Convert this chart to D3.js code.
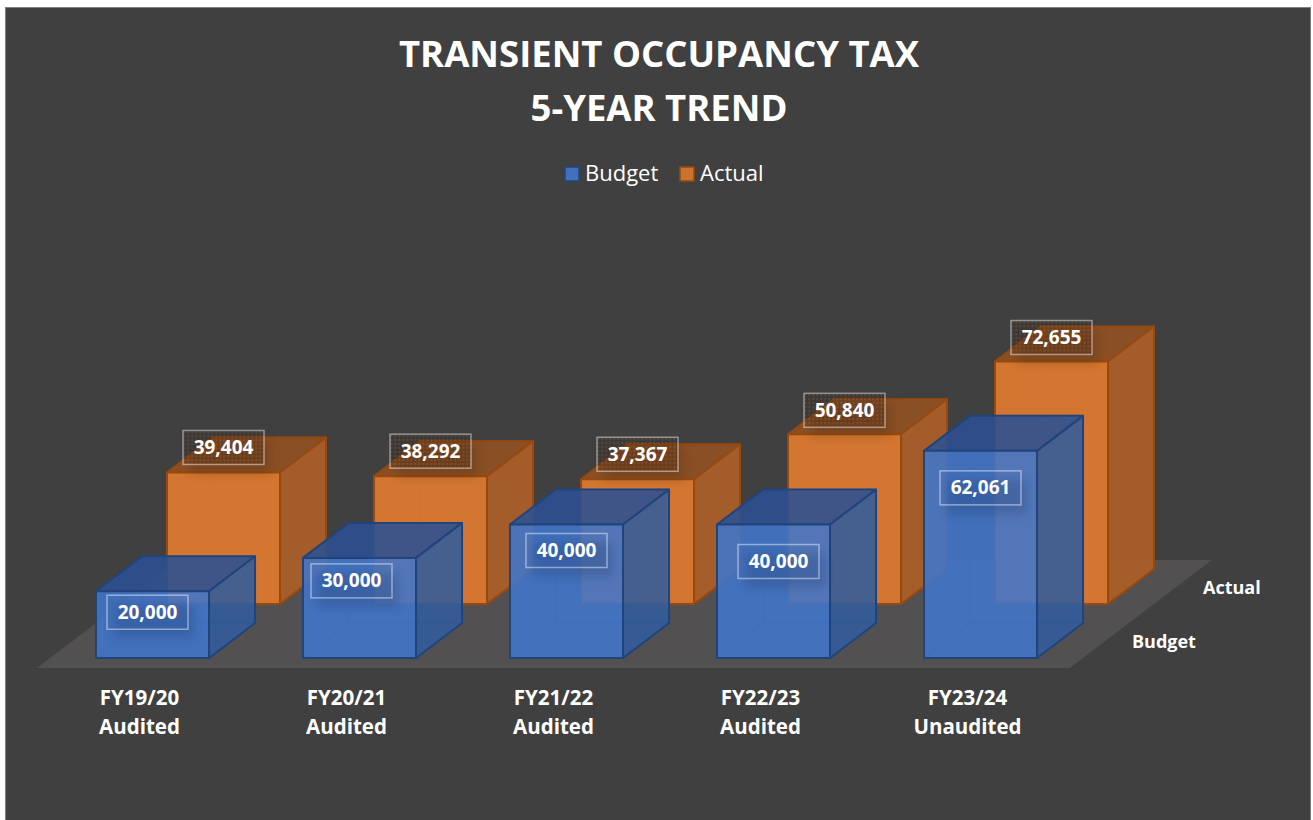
<!DOCTYPE html>
<html>
<head>
<meta charset="utf-8">
<title>Transient Occupancy Tax</title>
<script src="https://cdn.jsdelivr.net/npm/d3@7"></script>
<style>
    html, body { margin: 0; padding: 0; background: #fff; }
    svg { display: block; }
    text { font-family: "Open Sans", Lato, sans-serif; fill: #fff; }
</style>
</head>
<body>
<svg id="chart" width="1313" height="820"></svg>
<script>
/*------------------------- data -------------------------*/
const categories = ["FY19/20", "FY20/21", "FY21/22", "FY22/23", "FY23/24"];
const auditStatus = ["Audited", "Audited", "Audited", "Audited", "Unaudited"];
const series = ["Budget", "Actual"];
const budget = [20000, 30000, 40000, 40000, 62061];
const actual = [39404, 38292, 37367, 50840, 72655];
const titleLines = ["TRANSIENT OCCUPANCY TAX", "5-YEAR TREND"];

/*------------------------ styling ------------------------*/
const colors = {
    Budget: { front: "#4175ca", side: "#315a9a", top: "#2c4f91", inner: "#4f7fd0", stroke: "#22447c", shadow: "#1d3566", alpha: 0.85 },
    Actual: { front: "#da7830", side: "#a85d28", top: "#8c5023", inner: "#e08a48", stroke: "#97490f", shadow: "#4a2508", alpha: 0.94 }
};
// data labels were dragged around by hand in the original, so they carry their own nudges
const labelNudge = {
    Budget: [[-5, 21], [-8, 23], [0, 26], [5, 37], [0, 37]],
    Actual: [[0, -25], [0, -25], [0, -25], [0, -24], [0, -24]]
};

const svg = d3.select("#chart");

/*------------------------- scales ------------------------*/
const x = d3.scaleBand()
    .domain(categories)
    .range([49, 1084])
    .paddingInner(0.454)
    .paddingOuter(0.227);

const y = d3.scaleLinear().domain([0, 80000]).range([658, 391]);

// depth into the picture, in px of vertical rise
const z = d3.scalePoint().domain(series).range([0, 54]);
const barDepth = 35;
const skew = 1.315;

// oblique projection of ground x, value and depth
function project(px, value, depth) {
    return [px + depth * skew, y(value) - depth];
}

const line = pts => "M" + pts.map(p => p.join(",")).join("L") + "Z";

/*------------------------- defs --------------------------*/
const defs = svg.append("defs");
defs.append("filter").attr("id", "soft")
    .attr("x", "-30%").attr("y", "-50%").attr("width", "160%").attr("height", "200%")
    .append("feGaussianBlur").attr("stdDeviation", 5);

const dots = defs.append("pattern").attr("id", "dots")
    .attr("width", 4).attr("height", 4).attr("patternUnits", "userSpaceOnUse");
dots.append("rect").attr("width", 4).attr("height", 4).attr("fill", "#3a2010").attr("opacity", 0.22);
dots.append("rect").attr("width", 1.5).attr("height", 1.5).attr("fill", "#fff").attr("opacity", 0.16);

/*---------------------- background ----------------------*/
svg.append("rect")
    .attr("x", 5.5).attr("y", 7.5)
    .attr("width", 1305).attr("height", 830)
    .attr("fill", "#404040")
    .attr("stroke", "#7f7f7f");

svg.selectAll(".title")
    .data(titleLines)
    .join("text")
    .attr("class", "title")
    .attr("x", 659)
    .attr("y", (d, i) => 67 + i * 54)
    .attr("text-anchor", "middle")
    .attr("font-size", 36.5)
    .attr("font-weight", 700)
    .text(d => d);

/*------------------------ legend -------------------------*/
const legendX = { Budget: 564, Actual: 679 };
const legend = svg.selectAll(".legend")
    .data(series)
    .join("g")
    .attr("class", "legend")
    .attr("transform", d => `translate(${legendX[d]},166)`);
legend.append("rect")
    .attr("x", 1).attr("y", 1)
    .attr("width", 14).attr("height", 14)
    .attr("fill", d => colors[d].front)
    .attr("fill-opacity", 0.9)
    .attr("stroke", d => colors[d].stroke)
    .attr("stroke-width", 1.5);
legend.append("text")
    .attr("x", 21).attr("y", 15)
    .attr("font-size", 22)
    .text(d => d);

/*------------------------- floor -------------------------*/
const floorLeft = 50, floorRight = 1083, floorFront = -10, floorBack = 98;
svg.append("path")
    .attr("d", line([
        project(floorLeft, 0, floorFront),
        project(floorRight, 0, floorFront),
        project(floorRight, 0, floorBack),
        project(floorLeft, 0, floorBack)
    ]))
    .attr("fill", "#525050");

/*------------------------- bars --------------------------*/
function faces(px, value, name) {
    const w = x.bandwidth();
    const d0 = z(name), d1 = d0 + barDepth;
    const a = project(px, 0, d0), b = project(px + w, 0, d0);
    const c = project(px + w, value, d0), e = project(px, value, d0);
    const a2 = project(px, 0, d1), b2 = project(px + w, 0, d1);
    const c2 = project(px + w, value, d1), e2 = project(px, value, d1);
    const col = colors[name];
    return [
        { pts: [a, b, b2, a2], fill: col.inner, op: 0.22, stroke: 0.2 },   // bottom
        { pts: [a, e, e2, a2], fill: col.inner, op: 0.22, stroke: 0.2 },   // left
        { pts: [a2, b2, c2, e2], fill: col.inner, op: 0.22, stroke: 0.2 }, // back
        { pts: [e, c, c2, e2], fill: col.top, op: col.alpha, stroke: 1 },  // top
        { pts: [b, c, c2, b2], fill: col.side, op: col.alpha, stroke: 1 }, // side
        { pts: [a, b, c, e], fill: col.front, op: col.alpha, stroke: 1 }   // front
    ];
}

const rows = [
    { name: "Actual", values: actual },
    { name: "Budget", values: budget }
];

rows.forEach(row => {
    const g = svg.append("g").attr("class", "series-" + row.name);
    row.values.forEach((v, i) => {
        g.append("g").selectAll("path")
            .data(faces(x(categories[i]), v, row.name))
            .join("path")
            .attr("d", d => line(d.pts))
            .attr("fill", d => d.fill)
            .attr("fill-opacity", d => d.op)
            .attr("stroke", colors[row.name].stroke)
            .attr("stroke-opacity", d => d.stroke)
            .attr("stroke-width", 2)
            .attr("stroke-linejoin", "round");
    });
});

/*---------------------- data labels ----------------------*/
const fmt = d3.format(",");
const boxW = 81, boxH = 34;

rows.forEach(row => {
    row.values.forEach((v, i) => {
        const p = project(x(categories[i]) + x.bandwidth() / 2, v, z(row.name));
        const cx = p[0] + labelNudge[row.name][i][0];
        const cy = p[1] + labelNudge[row.name][i][1];
        const g = svg.append("g").attr("transform", `translate(${cx},${cy})`);
        g.append("rect")
            .attr("x", -boxW / 2 + 6).attr("y", -boxH / 2 + 9)
            .attr("width", boxW).attr("height", boxH)
            .attr("fill", colors[row.name].shadow)
            .attr("opacity", 0.25)
            .attr("filter", "url(#soft)");
        g.append("rect")
            .attr("x", -boxW / 2).attr("y", -boxH / 2)
            .attr("width", boxW).attr("height", boxH)
            .attr("fill", row.name === "Actual" ? "url(#dots)" : "none")
            .attr("stroke", "#fff")
            .attr("stroke-opacity", 0.45)
            .attr("stroke-width", 1.5);
        g.append("text")
            .attr("y", 6.5)
            .attr("text-anchor", "middle")
            .attr("font-size", 19)
            .attr("font-weight", 700)
            .text(fmt(v));
    });
});

/*------------------------- axes --------------------------*/
const catLabels = svg.selectAll(".cat")
    .data(categories)
    .join("text")
    .attr("class", "cat")
    .attr("text-anchor", "middle")
    .attr("font-size", 20.5)
    .attr("font-weight", 700);
catLabels.append("tspan")
    .attr("x", d => x(d) + x.bandwidth() / 2 - 13)
    .attr("y", 705)
    .text(d => d);
catLabels.append("tspan")
    .attr("x", d => x(d) + x.bandwidth() / 2 - 13)
    .attr("y", 734)
    .text((d, i) => auditStatus[i]);

svg.selectAll(".depth")
    .data(series)
    .join("text")
    .attr("class", "depth")
    .attr("x", d => project(floorRight, 0, z(d) + barDepth / 2)[0] + 26)
    .attr("y", d => project(floorRight, 0, z(d) + barDepth / 2)[1] + 7)
    .attr("font-size", 18)
    .attr("font-weight", 700)
    .text(d => d);
</script>
</body>
</html>
